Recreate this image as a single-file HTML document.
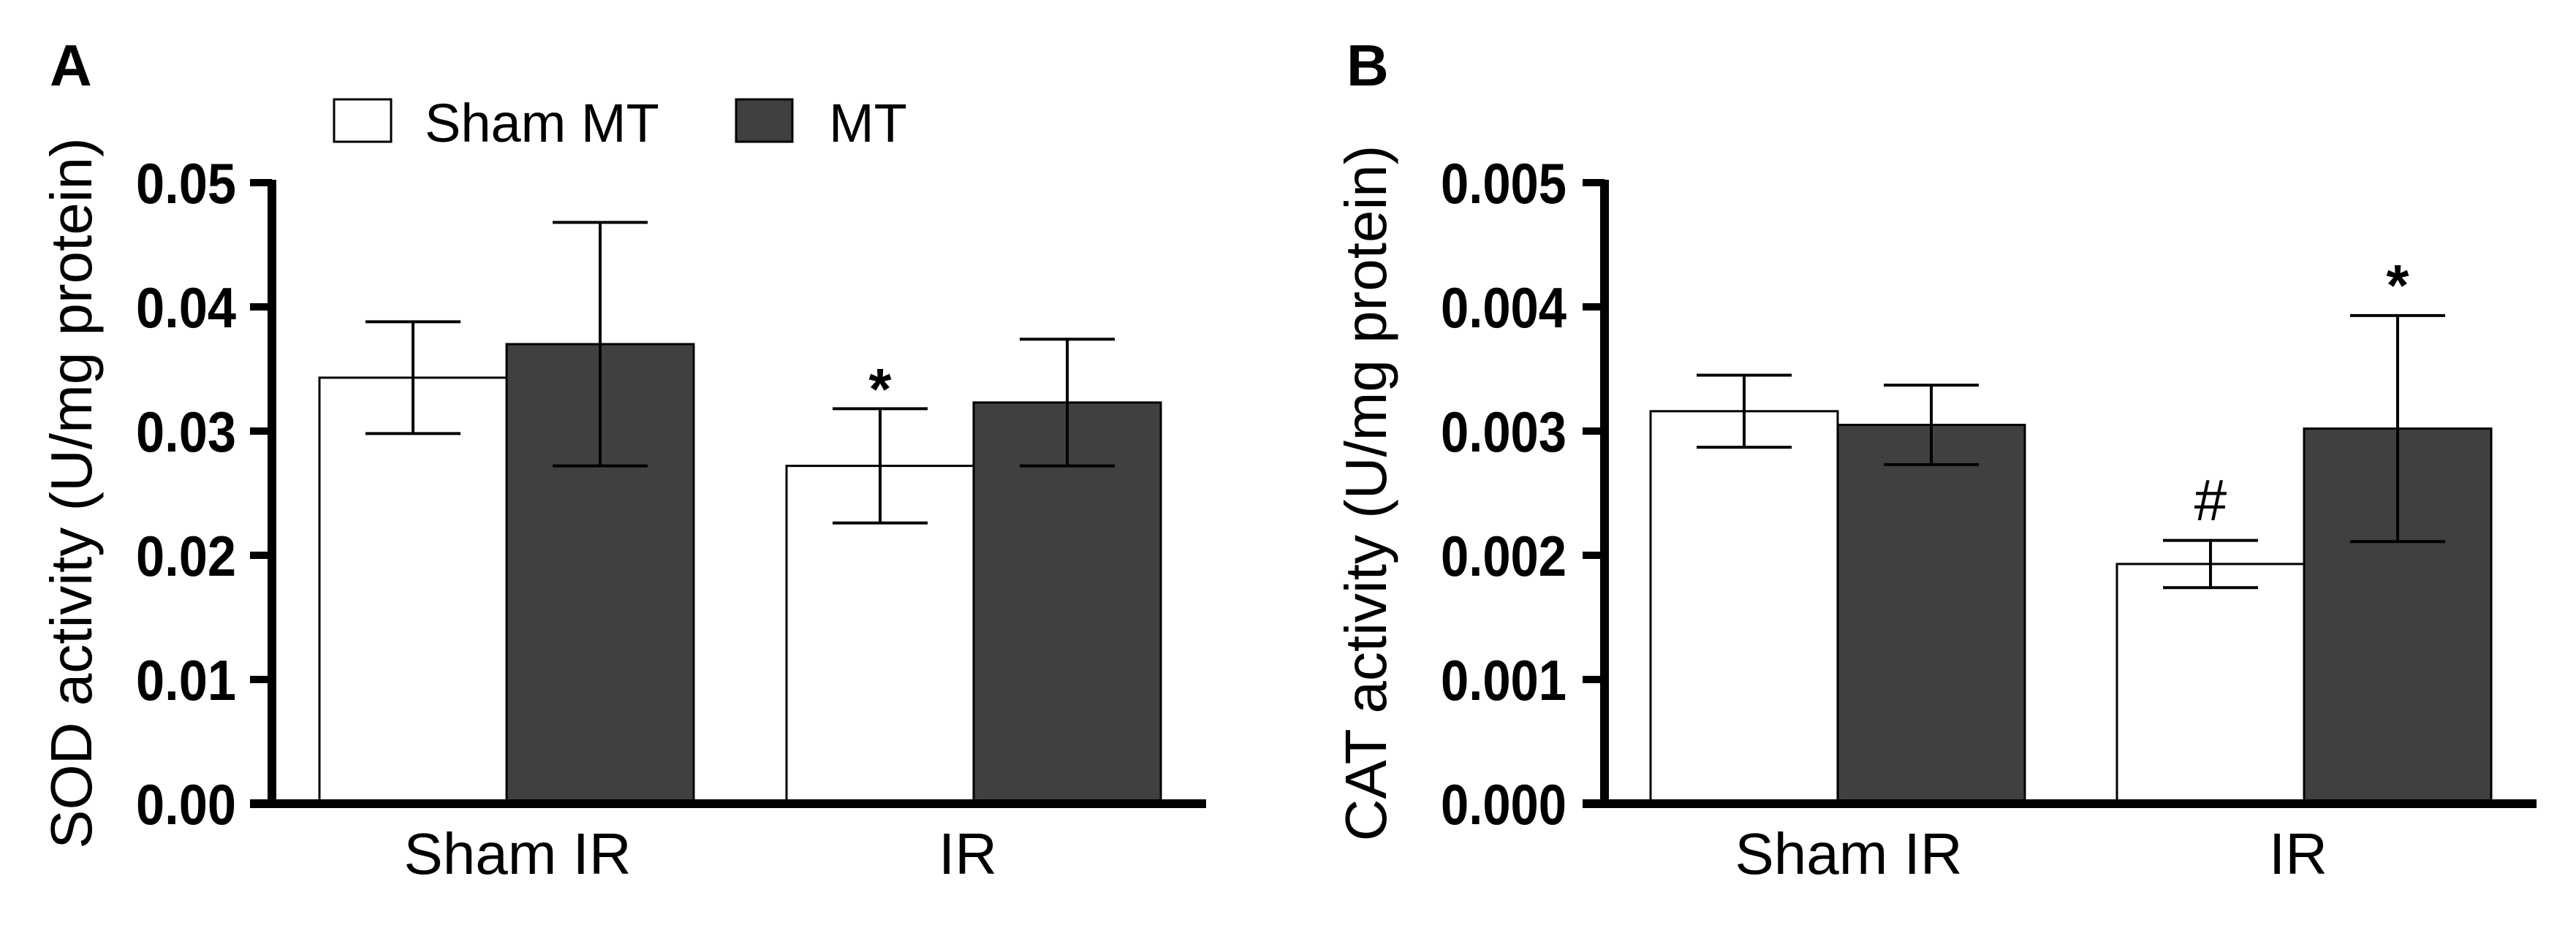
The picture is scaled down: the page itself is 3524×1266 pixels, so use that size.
<!DOCTYPE html>
<html><head><meta charset="utf-8"><style>
html,body{margin:0;padding:0;background:#fff;}
svg{display:block;font-family:"Liberation Sans",Arial,sans-serif;}
</style></head><body>
<svg id="fig" width="3524" height="1266" viewBox="0 0 3524 1266" xmlns="http://www.w3.org/2000/svg"></svg>
<script>
const groups = ["Sham IR", "IR"];
const sodSham = [0.0343, 0.0272];
const sodShamErr = [0.0045, 0.0046];
const sodMT = [0.0370, 0.0323];
const sodMTErr = [0.0098, 0.0051];
const sodTicks = ["0.00","0.01","0.02","0.03","0.04","0.05"];
const catSham = [0.00316, 0.00193];
const catShamErr = [0.00029, 0.00019];
const catMT = [0.00305, 0.00302];
const catMTErr = [0.00032, 0.00091];
const catTicks = ["0.000","0.001","0.002","0.003","0.004","0.005"];
const labelDx = [15, -8];

const NS = "http://www.w3.org/2000/svg";
const svg = document.getElementById("fig");
function mk(tag, attrs, parent, txt){
  const e = document.createElementNS(NS, tag);
  for (const k in attrs) e.setAttribute(k, attrs[k]);
  if (txt !== undefined) e.textContent = txt;
  (parent||svg).appendChild(e);
  return e;
}

function panel(cfg){
  const g = mk("g", {});
  
  
  const y0 = 1100, yTop = 250, ymax = cfg.ymax;
  const Y = v => y0 - (v / ymax) * (y0 - yTop);
  const barW = cfg.barW;
  for (let i = 0; i < groups.length; i++) {
    const gx = cfg.groupStart[i];
    const series = [
      {v: cfg.sham[i], e: cfg.shamErr[i], fill: "#fff", n: "sham-mt"},
      {v: cfg.mt[i], e: cfg.mtErr[i], fill: "#404040", n: "mt"}
    ];
    series.forEach((s, j) => {
      const x = gx + j * barW;
      const r = mk("rect", {x: x, y: Y(s.v), width: barW, height: y0 - Y(s.v), fill: s.fill, stroke: "#000", "stroke-width": 3}, g);
      
      
    });
    series.forEach((s, j) => {
      const cx = gx + j * barW + barW / 2;
      const eg = mk("g", {stroke: "#000", "stroke-width": 4}, g);
      
      
      mk("line", {x1: cx, x2: cx, y1: Y(s.v + s.e), y2: Y(s.v - s.e)}, eg);
      mk("line", {x1: cx - 65, x2: cx + 65, y1: Y(s.v + s.e), y2: Y(s.v + s.e)}, eg);
      mk("line", {x1: cx - 65, x2: cx + 65, y1: Y(s.v - s.e), y2: Y(s.v - s.e)}, eg);
    });
    const lbl = mk("text", {x: gx + barW + labelDx[i], y: 1196, "text-anchor": "middle", "font-size": 80, fill: "#000"}, g, groups[i]);
    
    
  }
  const ax = mk("g", {stroke: "#000"}, g);
  
  
  mk("line", {x1: cfg.ax, x2: cfg.ax, y1: yTop - 4, y2: y0 + 6, "stroke-width": 12}, ax);
  mk("line", {x1: cfg.ax - 30, x2: cfg.axEnd, y1: y0, y2: y0, "stroke-width": 12}, ax);
  cfg.ticks.forEach((t, k) => {
    const ty = Y(ymax * k / (cfg.ticks.length - 1));
    mk("line", {x1: cfg.ax - 30, x2: cfg.ax, y1: ty, y2: ty, "stroke-width": 10}, ax);
    const tl = mk("text", {x: cfg.ax - cfg.tickGap, y: ty + 28, "text-anchor": "end", "font-size": 78, "font-weight": "bold", fill: "#000", stroke: "none", textLength: cfg.tickLen, lengthAdjust: "spacingAndGlyphs"}, g, t);
    
    
  });
  const yt = mk("text", {x: 0, y: 0, transform: `translate(${cfg.ytx},675) rotate(-90)`, "text-anchor": "middle", "font-size": 80, fill: "#000"}, g, cfg.ytitle);
  
  
  const pl = mk("text", {x: cfg.letterX, y: 117, "font-size": 80, "font-weight": "bold", fill: "#000"}, g, cfg.letter);
  
  
  cfg.marks.forEach(m => {
    const cx = cfg.groupStart[m.g] + m.s * barW + barW / 2;
    const t = mk("text", {x: cx, y: m.y, "text-anchor": "middle", "font-size": 80, "font-weight": m.b ? "bold" : "normal", fill: "#000"}, g, m.t);
    
    
  });
}

panel({name: "panel-a-sod", ymax: 0.05, sham: sodSham, shamErr: sodShamErr, mt: sodMT, mtErr: sodMTErr,
  ticks: sodTicks, tickLen: 137, tickGap: 49, ax: 372, axEnd: 1650, groupStart: [437, 1076], barW: 256,
  ytx: 125, ytitle: "SOD activity (U/mg protein)", letter: "A", letterX: 68,
  marks: [{g: 1, s: 0, y: 560, b: true, t: "*", n: "significance-star"}]});

panel({name: "panel-b-cat", ymax: 0.005, sham: catSham, shamErr: catShamErr, mt: catMT, mtErr: catMTErr,
  ticks: catTicks, tickLen: 172, tickGap: 52, ax: 2195, axEnd: 3470, groupStart: [2258, 2896], barW: 256,
  ytx: 1896, ytitle: "CAT activity (U/mg protein)", letter: "B", letterX: 1842,
  marks: [{g: 1, s: 0, y: 712, b: false, t: "#", n: "significance-hash"},
          {g: 1, s: 1, y: 418, b: true, t: "*", n: "significance-star"}]});

const lg = mk("g", {});


const l1 = mk("rect", {x: 457, y: 136, width: 78, height: 58, fill: "#fff", stroke: "#000", "stroke-width": 3}, lg);


const t1 = mk("text", {x: 581, y: 194, "font-size": 74, fill: "#000"}, lg, "Sham MT");


const l2 = mk("rect", {x: 1007, y: 136, width: 77, height: 58, fill: "#404040", stroke: "#000", "stroke-width": 3}, lg);


const t2 = mk("text", {x: 1134, y: 194, "font-size": 74, fill: "#000"}, lg, "MT");


</script>
</body></html>
